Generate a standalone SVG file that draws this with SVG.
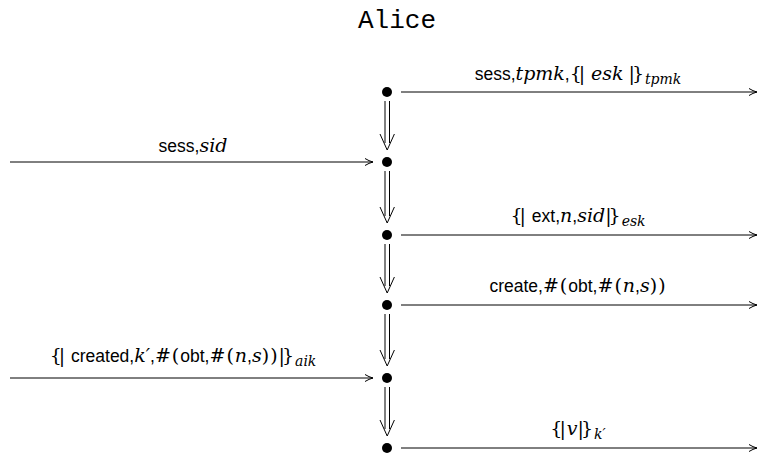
<svg xmlns="http://www.w3.org/2000/svg" width="759" height="455" viewBox="0 0 759 455">
<defs>
<marker id="ah" markerWidth="10" markerHeight="10" refX="9" refY="5" orient="auto" markerUnits="userSpaceOnUse">
<path d="M1,1.5 Q5,4 9,5 Q5,6 1,8.5" fill="none" stroke="#000" stroke-width="1"/>
</marker>
</defs>
<style>
.t{font-family:"Liberation Sans","DejaVu Sans",sans-serif;font-size:17.5px;fill:#000}
.m{font-family:"DejaVu Serif","Liberation Serif",serif;font-style:italic;font-size:19px}
.b{font-family:"DejaVu Serif","Liberation Serif",serif;font-size:19px;letter-spacing:-3px}
.p{font-family:"DejaVu Serif","Liberation Serif",serif;font-size:19px;letter-spacing:1px}
.s{font-size:14px}
.msg{stroke:#000;stroke-width:1;fill:none}
.dbl{stroke:#000;stroke-width:1;fill:none}
</style>
<rect width="759" height="455" fill="#fff"/>
<text x="397" y="28" text-anchor="middle" font-family="Liberation Mono,monospace" font-size="26">Alice</text>
<g id="nodes">
<g id="n1"><circle cx="387" cy="92" r="5"/></g>
<g id="n2"><circle cx="387" cy="162" r="5"/></g>
<g id="n3"><circle cx="387" cy="235" r="5"/></g>
<g id="n4"><circle cx="387" cy="305" r="5"/></g>
<g id="n5"><circle cx="387" cy="378" r="5"/></g>
<g id="n6"><circle cx="387" cy="448" r="5"/></g>
</g>
<g id="connectors">
<g id="strands">
<path class="dbl" d="M385,101V143M389.5,101V143M380,134L387.2,150L394.4,134"/>
<path class="dbl" d="M385,171V216M389.5,171V216M380,207L387.2,223L394.4,207"/>
<path class="dbl" d="M385,244V286M389.5,244V286M380,277L387.2,293L394.4,277"/>
<path class="dbl" d="M385,314V359M389.5,314V359M380,350L387.2,366L394.4,350"/>
<path class="dbl" d="M385,387V429M389.5,387V429M380,420L387.2,436L394.4,420"/>
</g>
<g id="messages">
<path class="msg" d="M401,92H757" marker-end="url(#ah)"/>
<path class="msg" d="M10,162H373" marker-end="url(#ah)"/>
<path class="msg" d="M401,235H757" marker-end="url(#ah)"/>
<path class="msg" d="M401,305H757" marker-end="url(#ah)"/>
<path class="msg" d="M10,378H373" marker-end="url(#ah)"/>
<path class="msg" d="M401,448H757" marker-end="url(#ah)"/>
</g>
<g id="labels">
<text class="t" x="578" y="80" text-anchor="middle">sess,<tspan class="m">tpmk</tspan>,<tspan class="b">{</tspan><tspan class="p">|</tspan> <tspan class="m">esk</tspan> <tspan class="b">|</tspan><tspan class="p">}</tspan><tspan class="m s" dy="4">tpmk</tspan></text>
<text class="t" x="193" y="152" text-anchor="middle">sess,<tspan class="m">sid</tspan></text>
<text class="t" x="578" y="222" text-anchor="middle"><tspan class="b">{</tspan><tspan class="p">|</tspan> ext,<tspan class="m">n</tspan>,<tspan class="m">sid</tspan><tspan class="b">|</tspan><tspan class="p">}</tspan><tspan class="m s" dy="4">esk</tspan></text>
<text class="t" x="578" y="292" text-anchor="middle">create,<tspan class="p">#(</tspan>obt,<tspan class="p">#(</tspan><tspan class="m">n</tspan>,<tspan class="m">s</tspan><tspan class="p">))</tspan></text>
<text class="t" x="183" y="362" text-anchor="middle"><tspan class="b">{</tspan><tspan class="p">|</tspan> created,<tspan class="m">k′</tspan>,<tspan class="p">#(</tspan>obt,<tspan class="p">#(</tspan><tspan class="m">n</tspan>,<tspan class="m">s</tspan><tspan class="p">))</tspan><tspan class="b">|</tspan><tspan class="p">}</tspan><tspan class="m s" dy="4">aik</tspan></text>
<text class="t" x="578" y="435" text-anchor="middle"><tspan class="b">{</tspan><tspan class="p">|</tspan><tspan class="m">v</tspan><tspan class="b">|</tspan><tspan class="p">}</tspan><tspan class="m s" dy="4">k′</tspan></text>
</g>
</g>
</svg>
